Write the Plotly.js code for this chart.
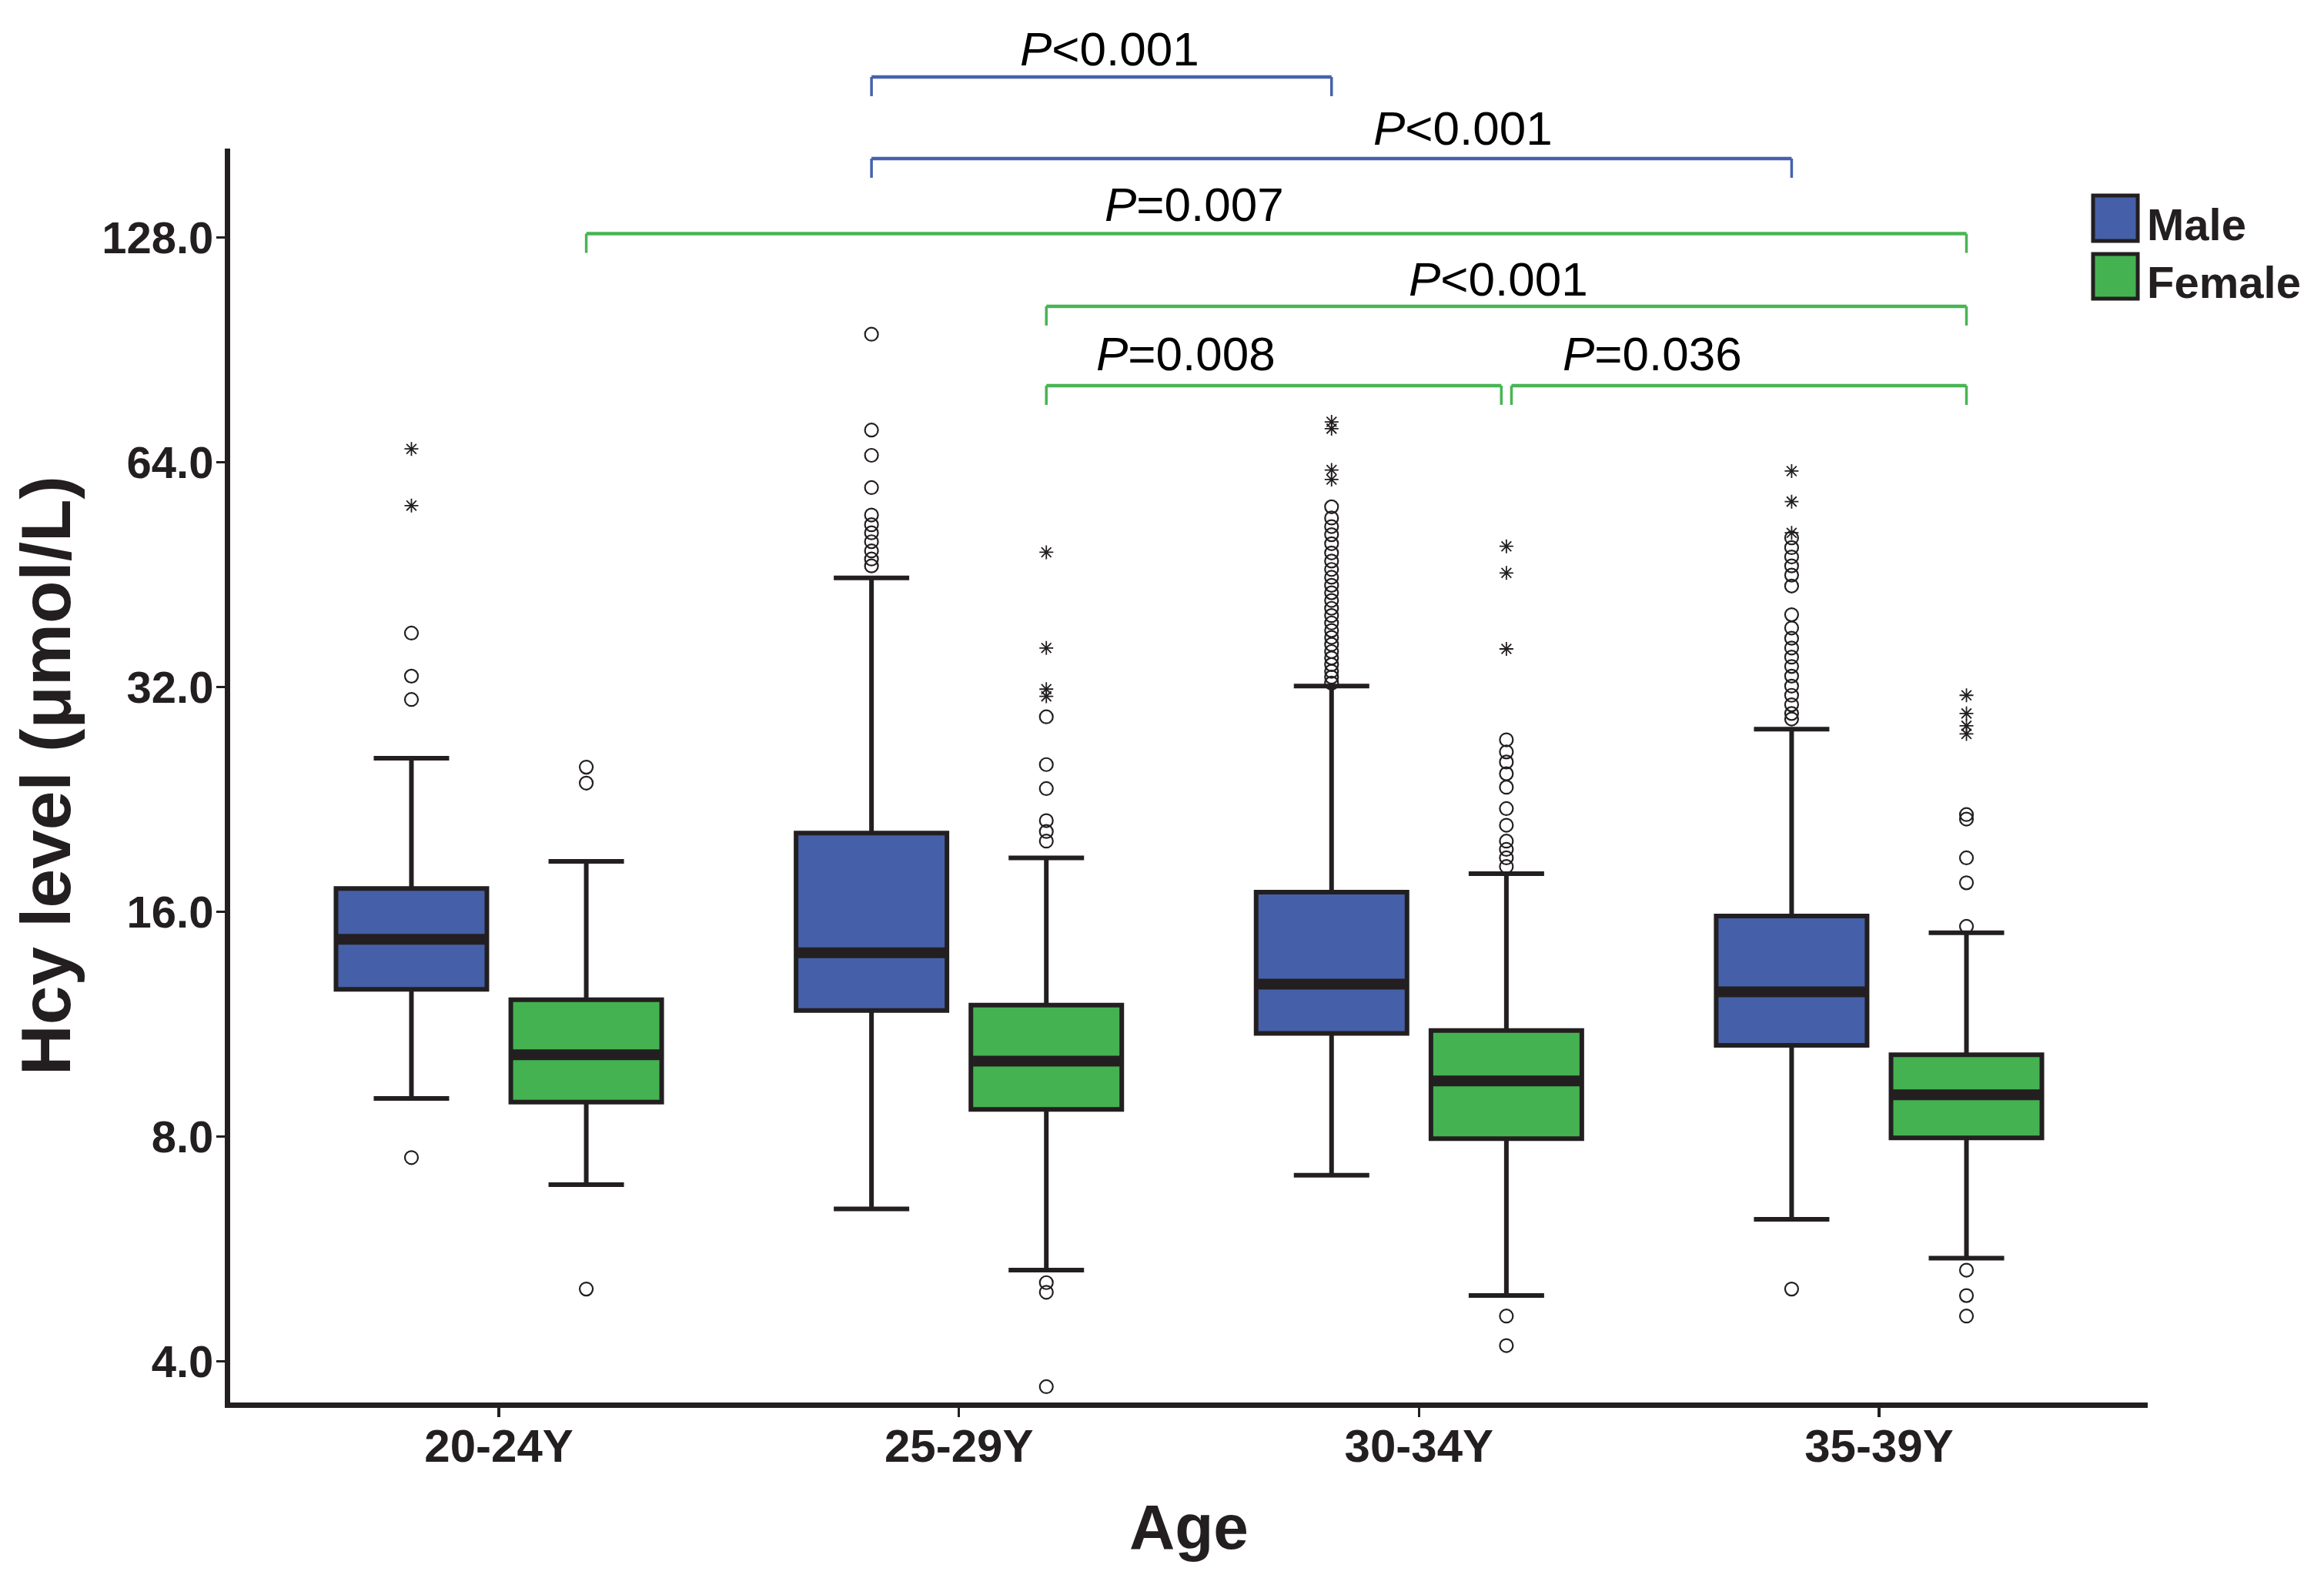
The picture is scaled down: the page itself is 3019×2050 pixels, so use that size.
<!DOCTYPE html>
<html><head><meta charset="utf-8">
<script src="https://cdn.plot.ly/plotly-3.0.1.min.js"></script>
<style>html,body{margin:0;padding:0;background:#fff}</style>
</head><body>
<div id="chart" style="width:3019px;height:2050px"></div>
<script>
// ---------------- DATA ----------------
const ageGroups = ['20-24Y', '25-29Y', '30-34Y', '35-39Y'];
const seriesNames = ['Male', 'Female'];

// Box statistics, Hcy (µmol/L)
const maleLowerFence = [9.0, 6.4, 7.1, 6.2];
const maleQ1         = [12.6, 11.8, 11.0, 10.6];
const maleMedian     = [14.7, 14.1, 12.8, 12.5];
const maleQ3         = [17.2, 20.4, 17.0, 15.8];
const maleUpperFence = [25.7, 44.8, 32.1, 28.1];

const femaleLowerFence = [6.9, 5.3, 4.9, 5.5];
const femaleQ1         = [8.9, 8.7, 7.95, 7.97];
const femaleMedian     = [10.3, 10.1, 9.5, 9.1];
const femaleQ3         = [12.2, 12.0, 11.1, 10.3];
const femaleUpperFence = [18.7, 18.9, 18.0, 15.0];

// Outliers (circles) and extreme values (asterisks)
const maleCircles2024 = [37.8, 33.1, 30.8, 7.5];
const maleCircles2529 = [95.0, 70.7, 65.4, 59.2, 54.4, 52.8, 51.5, 50.1, 48.7, 47.5, 46.5];
const maleCircles3034 = [55.8, 53.9, 52.5, 51.2, 49.8, 48.4, 47.2, 46.0, 44.9, 43.8, 42.8, 41.8, 40.8, 39.9, 39.0, 38.1, 37.3, 36.5, 35.7, 35.0, 34.3, 33.6, 33.0, 32.4];
const maleCircles3539 = [50.7, 49.2, 47.8, 46.5, 45.2, 43.7, 40.0, 38.4, 37.2, 36.1, 35.1, 34.1, 33.1, 32.1, 31.2, 30.3, 29.5, 29.0, 5.0];
const maleStars2024 = [66.7, 56.0];
const maleStars2529 = [];
const maleStars3034 = [72.5, 71.0, 62.5, 60.7];
const maleStars3539 = [62.3, 56.7, 51.5];

const femaleCircles2024 = [25.0, 23.8, 5.0];
const femaleCircles2529 = [29.2, 25.2, 23.4, 21.2, 20.5, 19.9, 5.1, 4.95, 3.7];
const femaleCircles3034 = [27.2, 26.2, 25.4, 24.5, 23.5, 22.0, 20.9, 19.9, 19.4, 18.9, 18.4, 4.6, 4.2];
const femaleCircles3539 = [21.6, 21.3, 18.9, 17.5, 15.3, 5.3, 4.9, 4.6];
const femaleStars2024 = [];
const femaleStars2529 = [48.5, 36.1, 31.8, 31.1];
const femaleStars3034 = [49.4, 45.5, 36.0];
const femaleStars3539 = [31.2, 29.5, 28.4, 27.7];

// Y axis ticks
const yTickVals = [4, 8, 16, 32, 64, 128];
const yTickText = ['4.0', '8.0', '16.0', '32.0', '64.0', '128.0'];

// Pairwise comparisons
const bracketFrom   = ['25-29Y', '25-29Y', '20-24Y', '25-29Y', '25-29Y', '30-34Y'];
const bracketTo     = ['30-34Y', '35-39Y', '35-39Y', '35-39Y', '30-34Y', '35-39Y'];
const bracketSex    = ['Male', 'Male', 'Female', 'Female', 'Female', 'Female'];
const bracketLabels = ['<i>P</i>&lt;0.001', '<i>P</i>&lt;0.001', '<i>P</i>=0.007', '<i>P</i>&lt;0.001', '<i>P</i>=0.008', '<i>P</i>=0.036'];

// ---------------- STYLE / LAYOUT ----------------
const INK = '#231F20';
const MALE_FILL = '#4560A8';
const FEMALE_FILL = '#44B250';
const MALE_BRACKET = '#4662AC';
const FEMALE_BRACKET = '#48B553';
const FONT = 'Liberation Sans, Arial, Helvetica, sans-serif';
const BOXGAP = 0.24;

// Bracket placement (paper y for bar level, label positions)
const bracketLevel = [1.0571, 0.9920, 0.9321, 0.8742, 0.8109, 0.8109];
const bracketStartInset = [0, 0, 0, 0, 0, 0.011];
const bracketEndInset   = [0, 0, 0, 0, 0.011, 0];
const labelX = [1.328, 2.096, 1.512, 2.172, 1.494, 2.508];
const labelY = [1.0792, 1.0163, 0.9558, 0.8962, 0.8361, 0.8361];
const bracketDrop = 0.0153;

function expand(groupsArrays) {
  const xs = [], ys = [];
  groupsArrays.forEach((arr, i) => arr.forEach(v => { xs.push(ageGroups[i]); ys.push(v); }));
  return {x: xs, y: ys};
}

const maleCirc = expand([maleCircles2024, maleCircles2529, maleCircles3034, maleCircles3539]);
const maleStar = expand([maleStars2024, maleStars2529, maleStars3034, maleStars3539]);
const femCirc = expand([femaleCircles2024, femaleCircles2529, femaleCircles3034, femaleCircles3539]);
const femStar = expand([femaleStars2024, femaleStars2529, femaleStars3034, femaleStars3539]);

function boxTrace(name, group, fill, lf, q1, med, q3, uf) {
  return {
    type: 'box', name: name, x: ageGroups, offsetgroup: group,
    lowerfence: lf, q1: q1, median: med, q3: q3, upperfence: uf,
    fillcolor: fill, line: {color: INK, width: 6}, whiskerwidth: 0.5,
    boxpoints: false, hoverinfo: 'skip', showlegend: false
  };
}
function medianTrace(name, group, med) {
  return {
    type: 'box', name: name + ' median', x: ageGroups, offsetgroup: group,
    lowerfence: med, q1: med, median: med, q3: med, upperfence: med,
    fillcolor: 'rgba(0,0,0,0)', line: {color: INK, width: 14}, whiskerwidth: 0,
    boxpoints: false, hoverinfo: 'skip', showlegend: false
  };
}
function pointTrace(name, group, pts, symbol, size, lw) {
  return {
    type: 'scatter', mode: 'markers', name: name, x: pts.x, y: pts.y, offsetgroup: group,
    marker: {symbol: symbol, size: size, color: INK, line: {color: INK, width: lw}},
    cliponaxis: false, hoverinfo: 'skip', showlegend: false
  };
}

const traces = [
  boxTrace(seriesNames[0], 'M', MALE_FILL, maleLowerFence, maleQ1, maleMedian, maleQ3, maleUpperFence),
  boxTrace(seriesNames[1], 'F', FEMALE_FILL, femaleLowerFence, femaleQ1, femaleMedian, femaleQ3, femaleUpperFence),
  medianTrace(seriesNames[0], 'M', maleMedian),
  medianTrace(seriesNames[1], 'F', femaleMedian),
  pointTrace('Male outliers', 'M', maleCirc, 'circle-open', 17, 2.2),
  pointTrace('Male extremes', 'M', maleStar, 'asterisk-open', 15, 1.8),
  pointTrace('Female outliers', 'F', femCirc, 'circle-open', 17, 2.2),
  pointTrace('Female extremes', 'F', femStar, 'asterisk-open', 15, 1.8)
];

const sexOffset = {Male: -(1 - BOXGAP) / 4, Female: (1 - BOXGAP) / 4};
const shapes = [];
const annotations = [];
bracketFrom.forEach((from, i) => {
  const col = bracketSex[i] === 'Male' ? MALE_BRACKET : FEMALE_BRACKET;
  const x0 = ageGroups.indexOf(from) + sexOffset[bracketSex[i]] + bracketStartInset[i];
  const x1 = ageGroups.indexOf(bracketTo[i]) + sexOffset[bracketSex[i]] - bracketEndInset[i];
  const y = bracketLevel[i];
  const ln = {color: col, width: 4.5};
  shapes.push({type: 'line', xref: 'x', yref: 'paper', x0: x0, x1: x1, y0: y, y1: y, line: ln});
  shapes.push({type: 'line', xref: 'x', yref: 'paper', x0: x0, x1: x0, y0: y, y1: y - bracketDrop, line: {color: col, width: 3.5}});
  shapes.push({type: 'line', xref: 'x', yref: 'paper', x0: x1, x1: x1, y0: y, y1: y - bracketDrop, line: {color: col, width: 3.5}});
  annotations.push({xref: 'x', yref: 'paper', x: labelX[i], y: labelY[i], text: bracketLabels[i],
    showarrow: false, xanchor: 'center', yanchor: 'middle',
    font: {family: FONT, size: 62, color: '#000'}});
});

// Legend (drawn manually for large swatches)
const legendFills = [MALE_FILL, FEMALE_FILL];
const legendTop = [0.9626, 0.9159];
const legendBottom = [0.9263, 0.8803];
const legendTextY = [0.9398, 0.8932];
seriesNames.forEach((nm, i) => {
  shapes.push({type: 'rect', xref: 'paper', yref: 'paper', x0: 0.9715, x1: 0.9948,
    y0: legendBottom[i], y1: legendTop[i], fillcolor: legendFills[i], line: {color: INK, width: 5}});
  annotations.push({xref: 'paper', yref: 'paper', x: 0.9988, y: legendTextY[i], text: nm,
    showarrow: false, xanchor: 'left', yanchor: 'middle',
    font: {family: FONT, size: 58, color: INK, weight: 'bold'}});
});

const layout = {
  width: 3019, height: 2050,
  margin: {l: 299, r: 229, t: 193, b: 228},
  paper_bgcolor: '#ffffff', plot_bgcolor: '#ffffff',
  font: {family: FONT, color: INK},
  boxmode: 'group', boxgap: BOXGAP, boxgroupgap: 0.137,
  scattermode: 'group', scattergap: BOXGAP,
  showlegend: false,
  xaxis: {
    type: 'category', categoryorder: 'array', categoryarray: ageGroups,
    range: [-0.584, 3.584], showline: true, linewidth: 7, linecolor: INK,
    ticks: 'outside', ticklen: 12, tickwidth: 3.5, tickcolor: INK, ticklabelstandoff: -14,
    tickfont: {family: FONT, size: 60, color: INK, weight: 'bold'},
    showgrid: false, zeroline: false, automargin: false, fixedrange: true,
    title: {text: 'Age', font: {family: FONT, size: 82, color: INK, weight: 'bold'}, standoff: 46}
  },
  yaxis: {
    type: 'log', range: [0.5470, 2.2264],
    tickmode: 'array', tickvals: yTickVals, ticktext: yTickText,
    showline: true, linewidth: 7, linecolor: INK,
    ticks: 'outside', ticklen: 11, tickwidth: 3.5, tickcolor: INK, ticklabelstandoff: -8,
    tickfont: {family: FONT, size: 58, color: INK, weight: 'bold'},
    showgrid: false, zeroline: false, automargin: false, fixedrange: true,
    title: {text: 'Hcy level (μmol/L)', font: {family: FONT, size: 91, color: INK, weight: 'bold'}, standoff: 13}
  },
  shapes: shapes,
  annotations: annotations
};

Plotly.newPlot('chart', traces, layout, {staticPlot: true, displayModeBar: false});
</script>
</body></html>
